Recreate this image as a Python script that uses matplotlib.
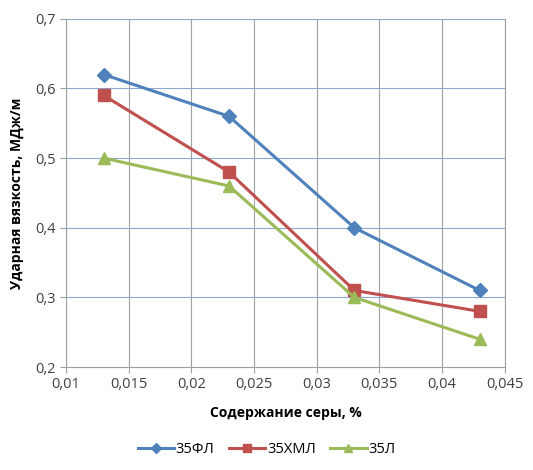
import matplotlib
matplotlib.use('Agg')
import matplotlib.pyplot as plt
from matplotlib.ticker import FuncFormatter

plt.rcParams['font.family'] = ['Open Sans', 'DejaVu Sans']

x = [0.013, 0.023, 0.033, 0.043]
y_35fl = [0.62, 0.56, 0.40, 0.31]
y_35hml = [0.59, 0.48, 0.31, 0.28]
y_35l = [0.50, 0.46, 0.30, 0.24]

fig = plt.figure(figsize=(5.33, 4.70), dpi=100)
ax = fig.add_axes([0.124, 0.219, 0.823, 0.741])

ax.plot(x, y_35fl, '-D', color='#4F81BD', lw=2.2, ms=7.5, label='35ФЛ')
ax.plot(x, y_35hml, '-s', color='#C0504D', lw=2.2, ms=9, label='35ХМЛ')
ax.plot(x, y_35l, '-^', color='#9BBB59', lw=2.2, ms=9, label='35Л')

ax.set_xlim(0.01, 0.045)
ax.set_ylim(0.2, 0.7)
ax.set_xticks([0.01, 0.015, 0.02, 0.025, 0.03, 0.035, 0.04, 0.045])
ax.set_yticks([0.2, 0.3, 0.4, 0.5, 0.6, 0.7])
ax.xaxis.set_major_formatter(FuncFormatter(lambda v, p: ('%g' % round(v, 3)).replace('.', ',')))
ax.yaxis.set_major_formatter(FuncFormatter(lambda v, p: ('%g' % round(v, 2)).replace('.', ',')))

ax.xaxis.grid(True, color='#A0A0A0', lw=0.8)
ax.yaxis.grid(True, color='#8EA9D0', lw=0.8)
ax.set_axisbelow(True)
ax.spines['top'].set_visible(False)
ax.spines['right'].set_color('#A0A0A0')
ax.spines['right'].set_linewidth(0.8)
ax.spines['left'].set_color('#A0A0A0')
ax.spines['bottom'].set_color('#A0A0A0')
ax.tick_params(colors='#A0A0A0', labelcolor='#404040', labelsize=10.5, length=4)

ax.set_xlabel('Содержание серы, %', fontsize=10, fontweight='bold', labelpad=10)
ax.set_ylabel('Ударная вязкость, МДж/м', fontsize=10, fontweight='bold', labelpad=8)

fig.legend(loc='lower center', ncol=3, frameon=False, fontsize=10.5,
           bbox_to_anchor=(0.5, 0.0), handlelength=2.5, columnspacing=1.0,
           handletextpad=0.1, markerscale=0.7)

fig.savefig('out.png', dpi=100)
